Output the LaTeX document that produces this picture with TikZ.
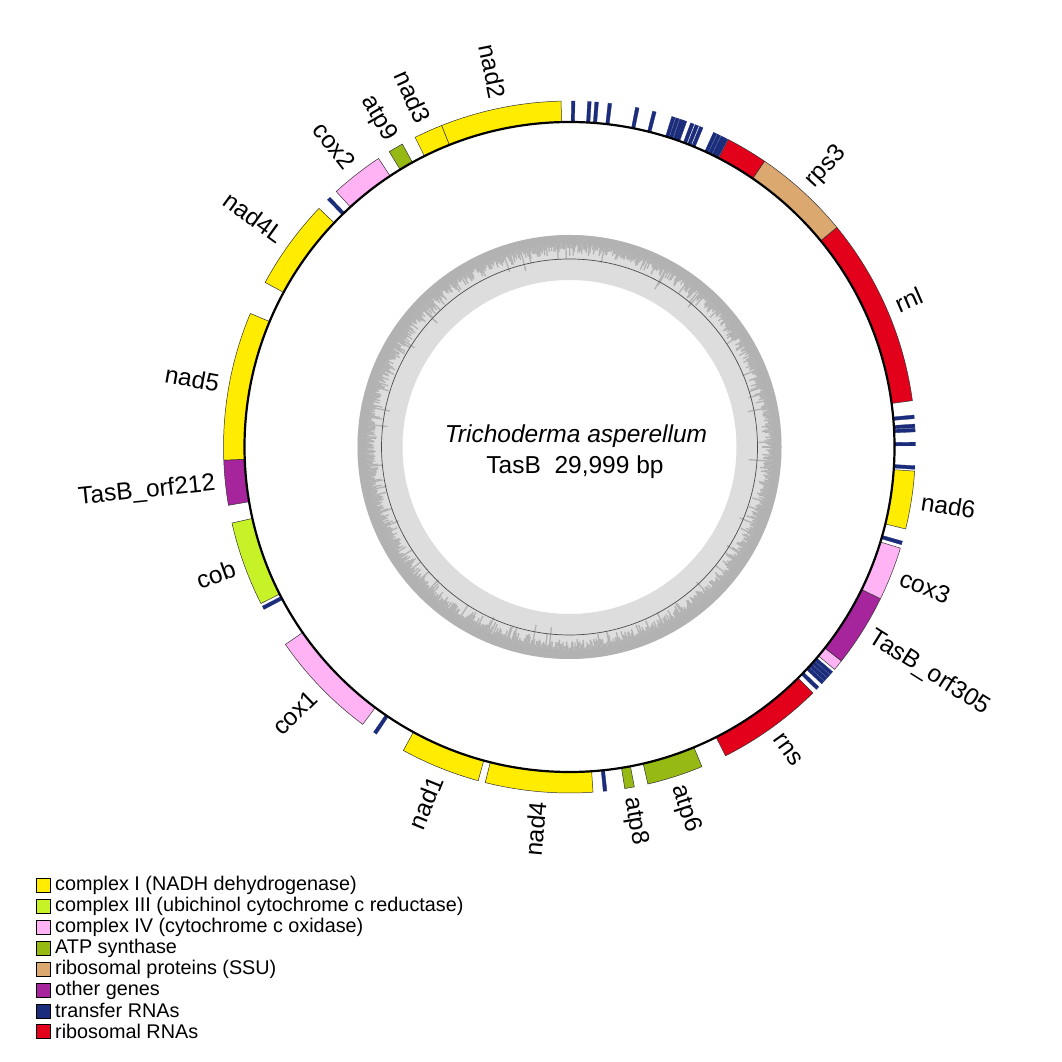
\documentclass[tikz,border=0pt]{standalone}
\usepackage{fontspec}
\setmainfont{Liberation Sans}
\definecolor{cI}{RGB}{255,236,0}
\definecolor{cIII}{RGB}{200,242,40}
\definecolor{cIV}{RGB}{255,179,245}
\definecolor{catp}{RGB}{150,185,20}
\definecolor{crp}{RGB}{219,168,112}
\definecolor{cother}{RGB}{166,36,156}
\definecolor{ctrna}{RGB}{27,45,122}
\definecolor{crrna}{RGB}{226,0,26}
\definecolor{gclight}{RGB}{221,221,221}
\definecolor{gcdark}{RGB}{178,178,178}
% gene sector: start angle, end angle (degrees clockwise from top), colour
\newcommand\gsec[3]{\filldraw[fill=#3, draw=black!80, line width=0.5pt]
  ({90-#1}:325pt) arc[start angle={90-#1}, end angle={90-#2}, radius=325pt]
  -- ({90-#2}:346pt) arc[start angle={90-#2}, end angle={90-#1}, radius=346pt] -- cycle;}
% tRNA bar at angle
\newcommand\trna[1]{\filldraw[fill=ctrna, draw=ctrna, line width=0.3pt]
  ({90-#1+0.3}:325pt) arc[start angle={90-#1+0.3}, end angle={90-#1-0.3}, radius=325pt]
  -- ({90-#1-0.3}:346pt) arc[start angle={90-#1-0.3}, end angle={90-#1+0.3}, radius=346pt] -- cycle;}
\newcommand\lblR[3]{\node[lbl, anchor=west, rotate={90-#2}] (#1) at ({90-#2}:356pt) {#3};}
\newcommand\lblL[3]{\node[lbl, anchor=east, rotate={270-#2}] (#1) at ({90-#2}:356pt) {#3};}
\tikzset{
  lbl/.style={inner sep=0pt, font=\fontsize{24.5}{28}\selectfont},
  legbox/.style={draw=black, line width=0.6pt, minimum width=14pt, minimum height=14pt, inner sep=0pt},
  legtext/.style={anchor=west, inner sep=0pt, font=\fontsize{19.8}{22}\selectfont}
}
\begin{document}
\begin{tikzpicture}
\useasboundingbox[fill=white] (0,0) rectangle (1062pt,1062pt);
\begin{scope}[shift={(569.5pt,615pt)}]
  % GC content ring
  \fill[gclight, even odd rule] (0,0) circle (212pt) (0,0) circle (167pt);
  \fill[gcdark, even odd rule] (0,0) circle (212pt) (0,0) circle (203pt);
  \pgfmathsetseed{11}
  \foreach \a in {0,0.35,...,359.8}{
    \pgfmathsetmacro\rr{202-7*rnd-20*rnd*rnd*rnd}
    \draw[gcdark, line width=1.3pt] (\a:206pt) -- (\a:\rr pt);
  }
  \draw[black!70, line width=0.7pt] (0,0) circle (188pt);
  % genes
  \gsec{338.3}{358.6}{cI}   % nad2
  \gsec{333.5}{338.3}{cI}   % nad3
  \gsec{328.6}{331.1}{catp} % atp9
  \gsec{317.6}{326.5}{cIV}  % cox2
  \gsec{298.4}{313.6}{cI}   % nad4L
  \gsec{267.8}{292.7}{cI}   % nad5
  \gsec{260.3}{267.8}{cother} % orf212
  \gsec{243.1}{257.3}{cIII} % cob
  \gsec{216.7}{235.2}{cIV}  % cox1
  \gsec{195.3}{208.7}{cI}   % nad1
  \gsec{176.1}{194.1}{cI}   % nad4
  \gsec{169.2}{170.8}{catp} % atp8
  \gsec{157.5}{166.9}{catp} % atp6
  \gsec{135.3}{153.2}{crrna} % rns
  \gsec{128.2}{130.0}{cIV}  % small pink
  \gsec{116.0}{128.2}{cother} % orf305
  \gsec{107.0}{116.0}{cIV}  % cox3
  \gsec{94.0}{103.7}{cI}    % nad6
  \gsec{50.6}{82.3}{crrna}  % rnl
  \gsec{34.3}{50.6}{crp}    % rps3
  \gsec{27.3}{34.3}{crrna}  % rnl part
  % tRNAs
  \foreach \t in {0.6,3.3,4.5,6.7,11.3,14.2,17.5,18.2,18.9,19.5,20.8,21.6,22.4,24.9,25.6,26.3,26.9,
                  85.0,86.5,87.2,89.5,93.4,106.1,130.8,131.5,132.2,132.9,134.2,174.1,214.2,242.3,315.9}{\trna{\t}}
  % main circle
  \draw[black, line width=2.2pt] (0,0) circle (325pt);
  % centre text
  \node[inner sep=0pt, font=\fontsize{24.5}{28}\selectfont\itshape] (title) at (6.5pt,11pt) {Trichoderma asperellum};
  \node[inner sep=0pt, font=\fontsize{24.5}{28}\selectfont] (sub) at (5.5pt,-20pt) {TasB\ \ 29,999 bp};
  % labels
  \lblL{l-nad2}{348.45}{nad2}
  \lblL{l-nad3}{335.9}{nad3}
  \lblL{l-atp9}{329.85}{atp9}
  \lblL{l-cox2}{322.05}{cox2}
  \lblL{l-nad4L}{306.0}{nad4L}
  \lblL{l-nad5}{280.25}{nad5}
  \lblL{l-orf212}{264.05}{TasB\_orf212}
  \lblL{l-cob}{250.2}{cob}
  \lblL{l-cox1}{225.95}{cox1}
  \lblL{l-nad1}{202.0}{nad1}
  \lblL{l-nad4}{185.1}{nad4}
  \lblR{l-atp8}{170.0}{atp8}
  \lblR{l-atp6}{162.2}{atp6}
  \lblR{l-rns}{144.25}{rns}
  \lblR{l-orf305}{122.1}{TasB\_orf305}
  \lblR{l-cox3}{111.5}{cox3}
  \lblR{l-nad6}{98.85}{nad6}
  \lblR{l-rnl}{66.5}{rnl}
  \lblR{l-rps3}{42.45}{rps3}
\end{scope}
% legend
\foreach \c/\txt [count=\i] in {cI/complex I (NADH dehydrogenase),
  cIII/complex III (ubichinol cytochrome c reductase),
  cIV/complex IV (cytochrome c oxidase),
  catp/ATP synthase,
  crp/ribosomal proteins (SSU),
  cother/other genes,
  ctrna/transfer RNAs,
  crrna/ribosomal RNAs}{
  \node[legbox, fill=\c] (kb\i) at (43pt,{1062pt-885.5pt-(\i-1)*20.9pt}) {};
  \node[legtext] (kt\i) at (55pt,{1062pt-885.5pt-(\i-1)*20.9pt}) {\txt};
}
\end{tikzpicture}
\end{document}
